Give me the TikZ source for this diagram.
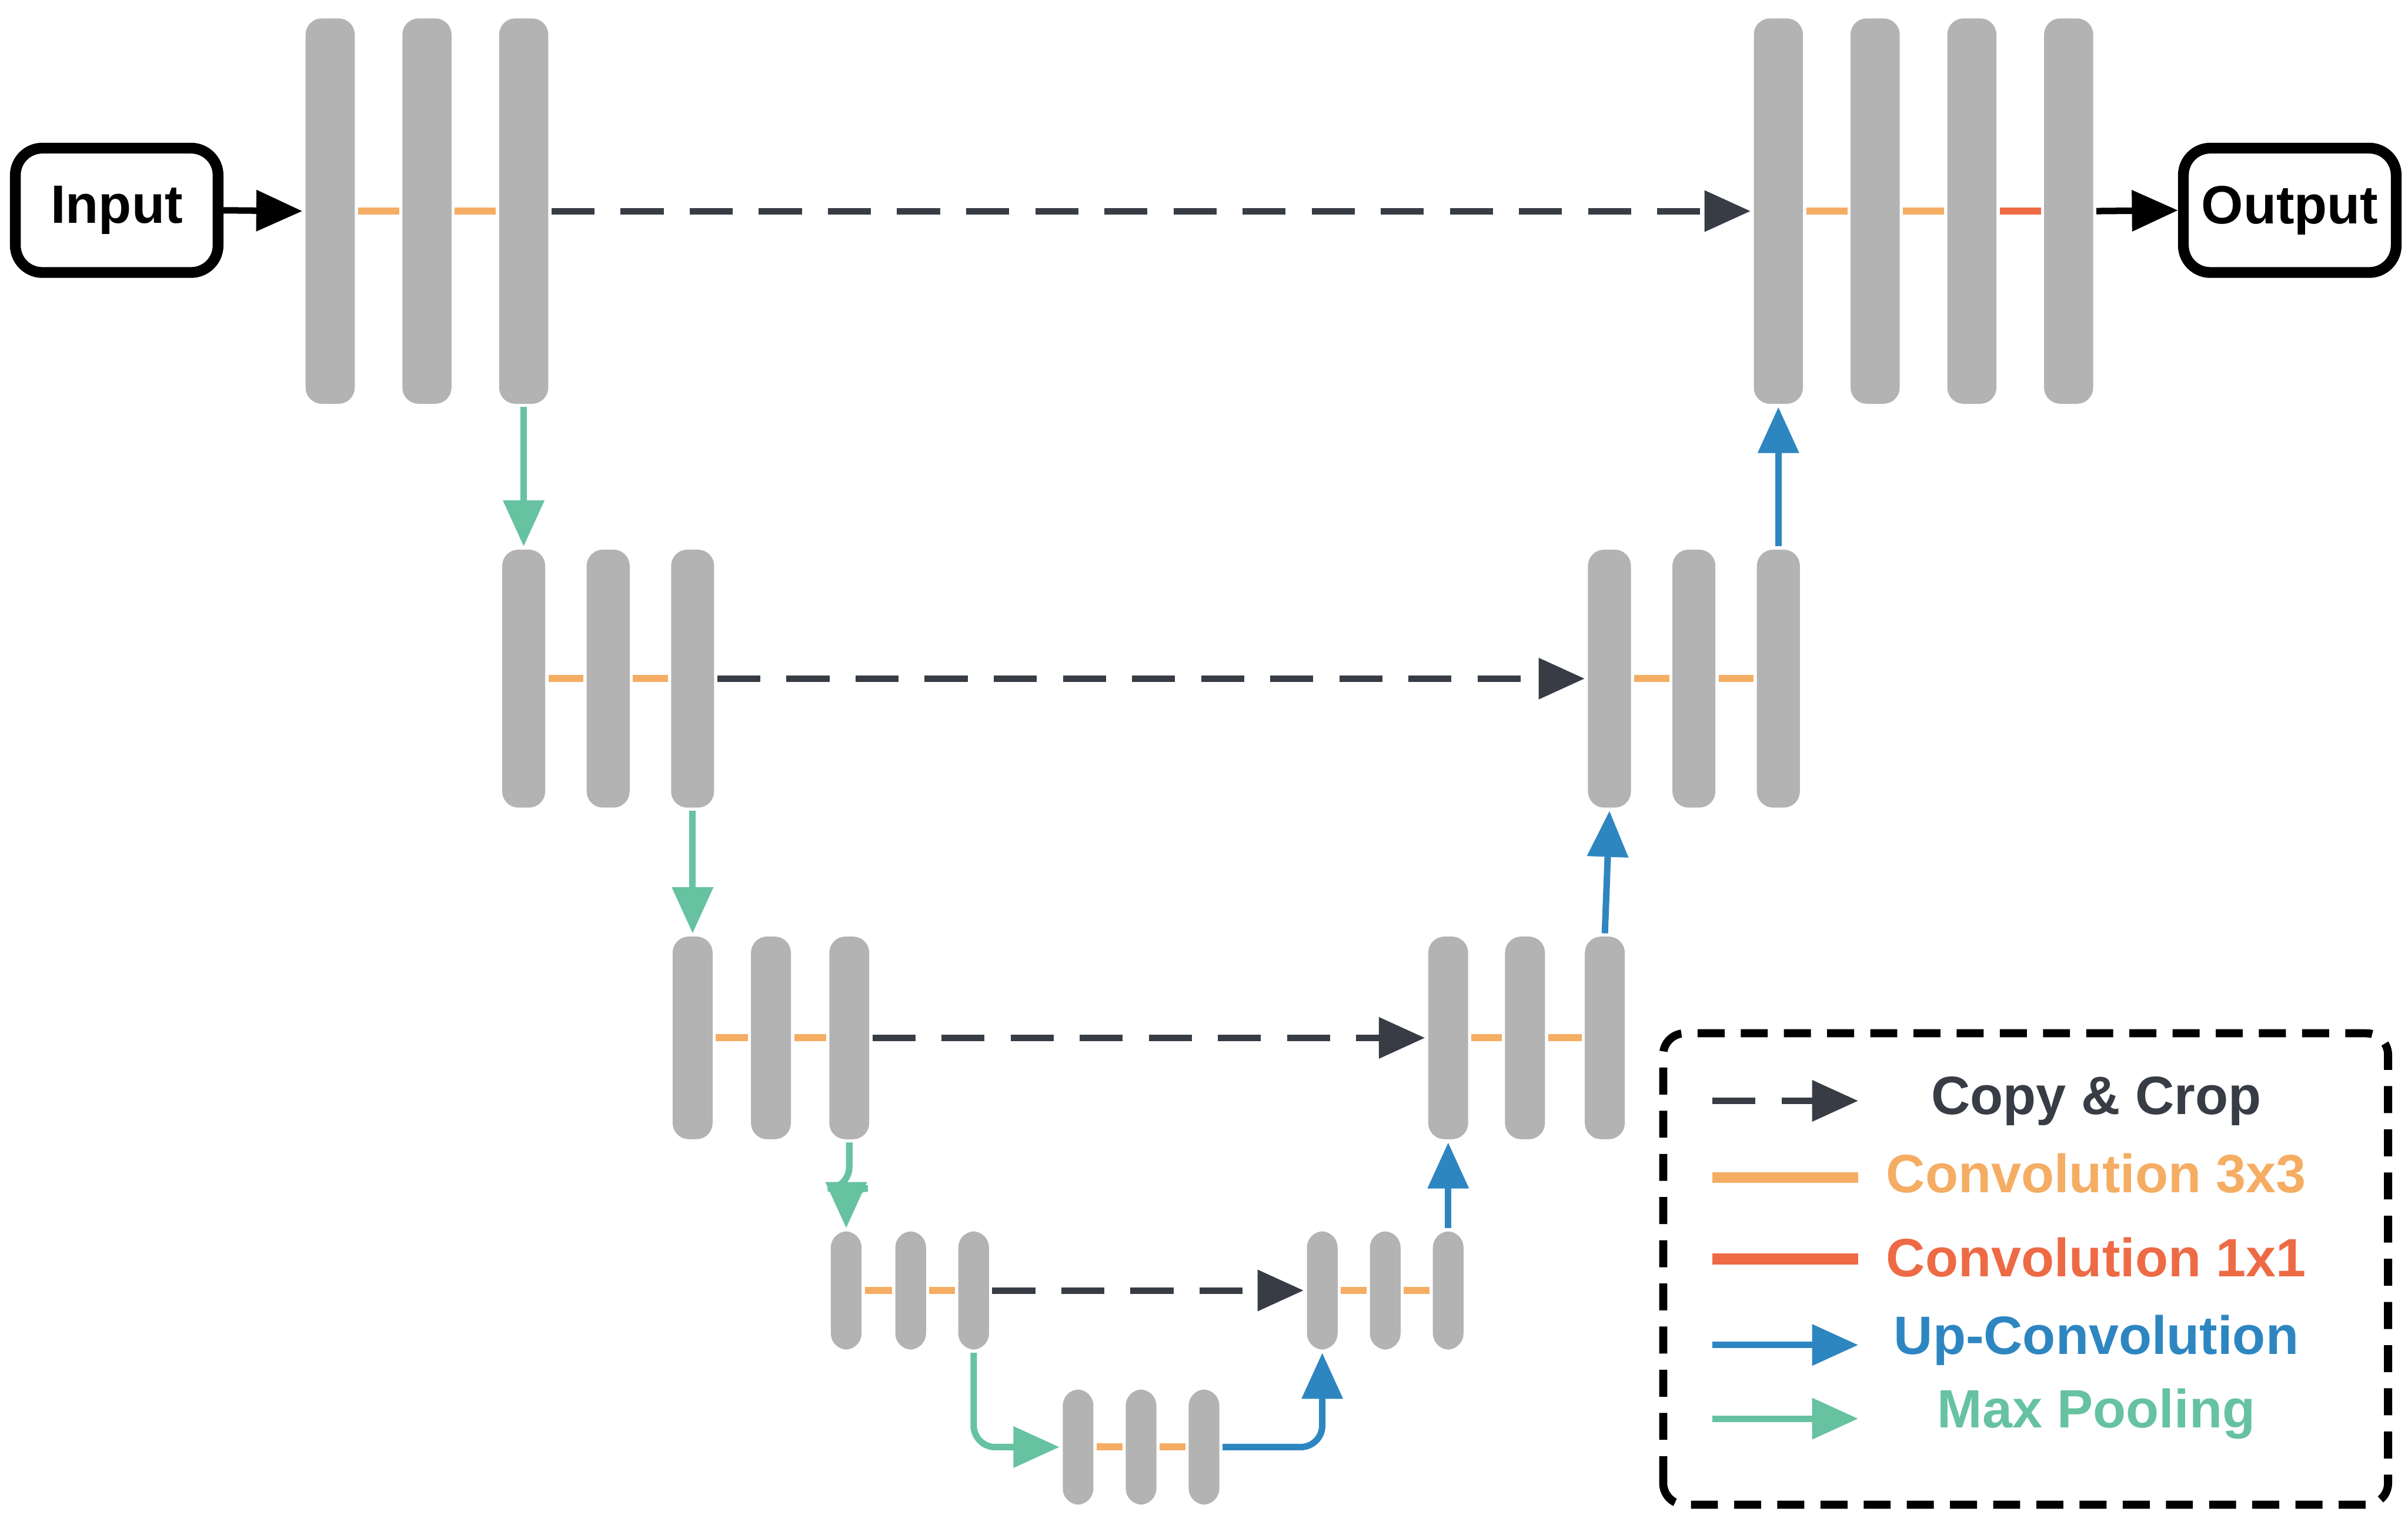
\documentclass[tikz,border=0pt]{standalone}
\usepackage{fontspec}
\setmainfont{Liberation Sans}
\usetikzlibrary{arrows.meta}
\definecolor{barg}{HTML}{B3B3B3}
\definecolor{copyc}{HTML}{373C45}
\definecolor{convc}{HTML}{F5AD63}
\definecolor{onec}{HTML}{EE6A45}
\definecolor{upc}{HTML}{2E86C1}
\definecolor{poolc}{HTML}{66C2A0}
\begin{document}
\begin{tikzpicture}[>={Triangle[length=0.3cm,width=0.26cm]},line width=1.2pt,
    bar/.style={rectangle,rounded corners=3pt,fill=barg,inner sep=0pt},
    io/.style={rectangle,draw,rounded corners=5pt,line width=2pt,minimum width=1.32cm,minimum height=0.81cm,font=\bfseries\fontsize{10}{12}\selectfont},
    conv/.style={convc,line width=1.3pt},
    copy/.style={->,copyc,dash pattern=on 0.28cm off 0.17cm},
    pool/.style={->,poolc,rounded corners=4pt},
    up/.style={->,upc,rounded corners=4pt},
    leg/.style={font=\bfseries\fontsize{10}{12}\selectfont}]
  \useasboundingbox (0,0) rectangle (15.68,9.93);

  % bars
  \foreach \n/\x in {l1a/2.15,l1b/2.78,l1c/3.41,r1a/11.58,r1b/12.21,r1c/12.84,r1d/13.47}
    \node[bar,minimum width=0.32cm,minimum height=2.51cm] (\n) at (\x,8.555) {};
  \foreach \n/\x in {l2a/3.41,l2b/3.96,l2c/4.51,r2a/10.48,r2b/11.03,r2c/11.58}
    \node[bar,minimum width=0.28cm,minimum height=1.68cm] (\n) at (\x,5.51) {};
  \foreach \n/\x in {l3a/4.51,l3b/5.02,l3c/5.53,r3a/9.43,r3b/9.93,r3c/10.45}
    \node[bar,minimum width=0.26cm,minimum height=1.32cm] (\n) at (\x,3.17) {};
  \foreach \n/\x in {l4a/5.51,l4b/5.93,l4c/6.34,r4a/8.61,r4b/9.02,r4c/9.43}
    \node[bar,minimum width=0.2cm,minimum height=0.77cm] (\n) at (\x,1.525) {};
  \foreach \n/\x in {b1/7.02,b2/7.43,b3/7.84}
    \node[bar,minimum width=0.2cm,minimum height=0.75cm] (\n) at (\x,0.505) {};

  \node[io] (in) at (0.76,8.56) {Input};
  \node[io] (out) at (14.91,8.56) {Output};

  % convolutions
  \foreach \a/\b in {l1a/l1b,l1b/l1c,r1a/r1b,r1b/r1c,l2a/l2b,l2b/l2c,r2a/r2b,r2b/r2c,
      l3a/l3b,l3b/l3c,r3a/r3b,r3b/r3c,l4a/l4b,l4b/l4c,r4a/r4b,r4b/r4c,b1/b2,b2/b3}
    \draw[conv] (\a.east) -- (\b.west);
  \draw[onec,line width=1.3pt] (r1c.east) -- (r1d.west);

  % copy and crop
  \draw[copy] (l1c.east) -- (r1a.west);
  \draw[copy] (l2c.east) -- (r2a.west);
  \draw[copy] (l3c.east) -- (r3a.west);
  \draw[copy] (l4c.east) -- (r4a.west);

  % pooling
  \draw[pool] (l1c.south) -- (l2a.north);
  \draw[pool] (l2c.south) -- (l3a.north);
  \draw[pool] (l3c.south) -- ++(0,-0.3) -| (l4a.north);
  \draw[pool] (l4c.south) |- (b1.west);

  % up-convolutions
  \draw[up] (b3.east) -| (r4a.south);
  \draw[up] (r4c.north) -- (r3a.south);
  \draw[up] (r3c.north) -- (r2a.south);
  \draw[up] (r2c.north) -- (r1a.south);

  \draw[->,black] (in.east) -- (l1a.west);
  \draw[->,black] (r1d.east) -- (out.west);

  % legend
  \draw[line width=1.5pt,dash pattern=on 5pt off 3pt,rounded corners=4pt] (10.83,0.13) rectangle (15.55,3.20);
  \coordinate (k1) at (11.15,2.76);
  \coordinate (k2) at (11.15,2.26);
  \coordinate (k3) at (11.15,1.73);
  \coordinate (k4) at (11.15,1.17);
  \coordinate (k5) at (11.15,0.69);
  \draw[copy] (k1) -- ++(0.95,0);
  \draw[conv,line width=2pt] (k2) -- ++(0.95,0);
  \draw[onec,line width=2pt] (k3) -- ++(0.95,0);
  \draw[->,upc] (k4) -- ++(0.95,0);
  \draw[->,poolc] (k5) -- ++(0.95,0);
  \node[leg,text=copyc] (t1) at (13.65,2.76) {Copy \& Crop};
  \node[leg,text=convc] (t2) at (13.65,2.29) {Convolution 3x3};
  \node[leg,text=onec] (t3) at (13.65,1.74) {Convolution 1x1};
  \node[leg,text=upc] (t4) at (13.65,1.20) {Up-Convolution};
  \node[leg,text=poolc] (t5) at (13.65,0.72) {Max Pooling};
\end{tikzpicture}
\end{document}
